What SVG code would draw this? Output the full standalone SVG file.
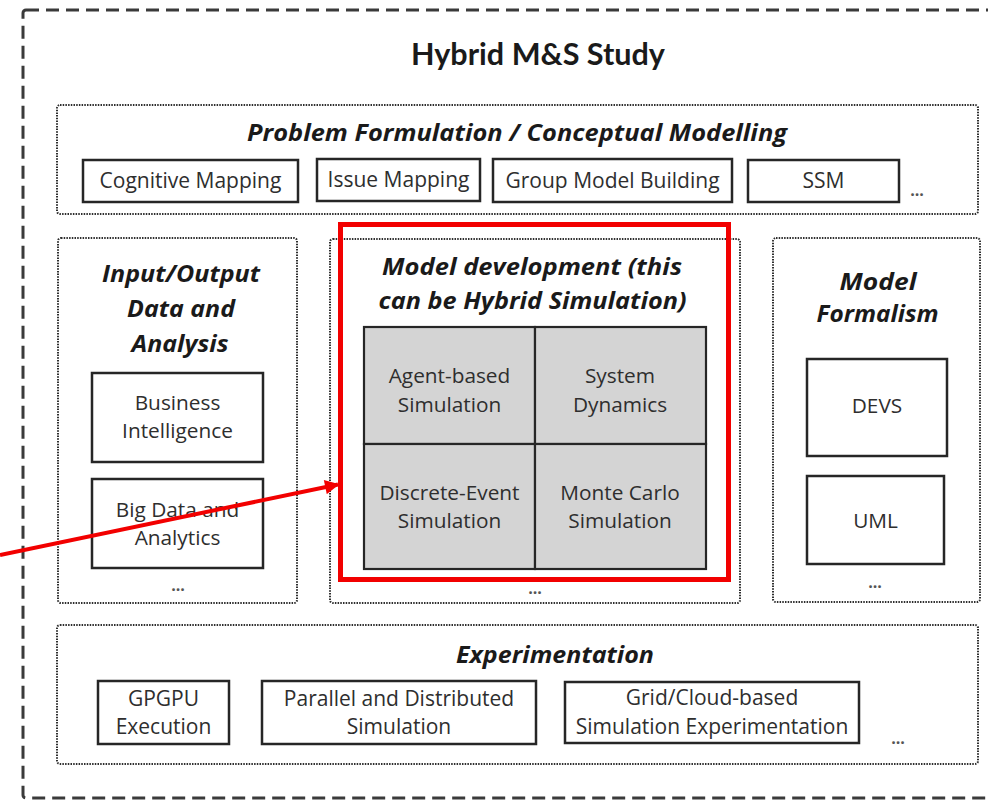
<svg xmlns="http://www.w3.org/2000/svg" width="988" height="802" viewBox="0 0 988 802">
  <defs>
    <style>
      .outer { fill: none; stroke: #3a3a3a; stroke-width: 3; stroke-dasharray: 13 7; }
      .group { fill: none; stroke: #2e2e2e; stroke-width: 2; stroke-dasharray: 1.5 1.2; }
      .box { fill: #ffffff; stroke: #262626; stroke-width: 2.5; }
      .cell { fill: #d4d4d4; stroke: #262626; stroke-width: 2.2; }
      .hl { fill: none; stroke: #f20000; stroke-width: 5; }
      .title { font-family: Lato, "Liberation Sans", sans-serif; font-weight: bold; font-size: 30px; fill: #1a1a1a; text-anchor: middle; }
      .head { font-family: "Open Sans", "Liberation Sans", sans-serif; font-weight: bold; font-style: italic; font-size: 22.5px; fill: #1a1a1a; text-anchor: middle; }
      .txt { font-family: "Open Sans", "Liberation Sans", sans-serif; font-size: 20.8px; fill: #2e2e2e; text-anchor: middle; }
      .sm { font-size: 21px; }
      .dots { font-family: "Open Sans", "Liberation Sans", sans-serif; font-size: 16px; font-weight: bold; fill: #555555; text-anchor: middle; }
    </style>
    <marker id="arrowRed" viewBox="0 0 10 10" refX="9" refY="5" markerWidth="4" markerHeight="3.6" orient="auto" markerUnits="strokeWidth">
      <path d="M0,0 L10,5 L0,10 z" fill="#f20000"/>
    </marker>
  </defs>

  <rect width="988" height="802" fill="#ffffff"/>

  <!-- study frame -->
  <g id="study">
    <rect class="outer" x="23" y="10" width="1000" height="788" rx="3"/>
    <text class="title" x="538" y="65" textLength="254" lengthAdjust="spacingAndGlyphs">Hybrid M&amp;S Study</text>
  </g>

  <!-- problem formulation / conceptual modelling -->
  <g id="problem-formulation">
    <rect class="group" x="57" y="105" width="921" height="109" rx="3"/>
    <text class="head" x="517" y="141" textLength="540" lengthAdjust="spacingAndGlyphs">Problem Formulation / Conceptual Modelling</text>
  </g>
  <g id="cognitive-mapping">
    <rect class="box" x="83" y="160" width="215" height="42"/>
    <text class="txt sm" x="190.5" y="188">Cognitive Mapping</text>
  </g>
  <g id="issue-mapping">
    <rect class="box" x="317" y="159" width="163" height="42"/>
    <text class="txt sm" x="398.5" y="187">Issue Mapping</text>
  </g>
  <g id="group-model-building">
    <rect class="box" x="493" y="159" width="239" height="43"/>
    <text class="txt sm" x="612.5" y="188">Group Model Building</text>
  </g>
  <g id="ssm">
    <rect class="box" x="748" y="160" width="151" height="42"/>
    <text class="txt sm" x="823.5" y="188">SSM</text>
  </g>
  <text class="dots" x="917" y="196">...</text>

  <!-- input / output data and analysis -->
  <g id="io-data">
    <rect class="group" x="58" y="238" width="239" height="365" rx="3"/>
    <text class="head" x="181" y="282" font-size="24" textLength="158" lengthAdjust="spacingAndGlyphs">Input/Output</text>
    <text class="head" x="181" y="317" font-size="24" textLength="108" lengthAdjust="spacingAndGlyphs">Data and</text>
    <text class="head" x="180" y="352" font-size="24" textLength="97" lengthAdjust="spacingAndGlyphs">Analysis</text>
    <text class="dots" x="178" y="591">...</text>
  </g>
  <g id="business-intelligence">
    <rect class="box" x="92" y="373" width="171" height="89"/>
    <text class="txt" x="177.5" y="410">Business</text>
    <text class="txt" x="177.5" y="438">Intelligence</text>
  </g>
  <g id="big-data">
    <rect class="box" x="92" y="479" width="171" height="89"/>
    <text class="txt" x="177.5" y="517">Big Data and</text>
    <text class="txt" x="177.5" y="545">Analytics</text>
  </g>

  <!-- model development -->
  <g id="model-development">
    <rect class="group" x="330" y="239" width="410" height="364" rx="3"/>
    <text class="dots" x="535" y="594">...</text>
    <rect class="hl" x="340.5" y="224.5" width="388" height="355"/>
    <text class="head" x="532" y="275" textLength="300" lengthAdjust="spacingAndGlyphs">Model development (this</text>
    <text class="head" x="532.5" y="309" textLength="308" lengthAdjust="spacingAndGlyphs">can be Hybrid Simulation)</text>
  </g>
  <g id="agent-based">
    <rect class="cell" x="364" y="327" width="171" height="117"/>
    <text class="txt" x="449.5" y="383">Agent-based</text>
    <text class="txt" x="449.5" y="412">Simulation</text>
  </g>
  <g id="system-dynamics">
    <rect class="cell" x="535" y="327" width="171" height="117"/>
    <text class="txt" x="620" y="383">System</text>
    <text class="txt" x="620" y="412">Dynamics</text>
  </g>
  <g id="discrete-event">
    <rect class="cell" x="364" y="444" width="171" height="125"/>
    <text class="txt" x="449.5" y="500">Discrete-Event</text>
    <text class="txt" x="449.5" y="528">Simulation</text>
  </g>
  <g id="monte-carlo">
    <rect class="cell" x="535" y="444" width="171" height="125"/>
    <text class="txt" x="620" y="500">Monte Carlo</text>
    <text class="txt" x="620" y="528">Simulation</text>
  </g>

  <!-- model formalism -->
  <g id="model-formalism">
    <rect class="group" x="773" y="238" width="207" height="364" rx="3"/>
    <text class="head" x="878" y="290" font-size="23.5" textLength="77" lengthAdjust="spacingAndGlyphs">Model</text>
    <text class="head" x="877.5" y="322" font-size="23.5" textLength="122" lengthAdjust="spacingAndGlyphs">Formalism</text>
    <text class="dots" x="875" y="588">...</text>
  </g>
  <g id="devs">
    <rect class="box" x="807" y="359" width="140" height="97"/>
    <text class="txt" x="877" y="413">DEVS</text>
  </g>
  <g id="uml">
    <rect class="box" x="807" y="476" width="137" height="88"/>
    <text class="txt" x="875.5" y="528">UML</text>
  </g>

  <!-- experimentation -->
  <g id="experimentation">
    <rect class="group" x="57" y="625" width="921" height="139" rx="3"/>
    <text class="head" x="555" y="663" textLength="198" lengthAdjust="spacingAndGlyphs">Experimentation</text>
  </g>
  <g id="gpgpu">
    <rect class="box" x="98" y="681" width="131" height="63"/>
    <text class="txt sm" x="163.5" y="706">GPGPU</text>
    <text class="txt sm" x="163.5" y="734">Execution</text>
  </g>
  <g id="parallel-distributed">
    <rect class="box" x="262" y="681" width="274" height="63"/>
    <text class="txt sm" x="399" y="706">Parallel and Distributed</text>
    <text class="txt sm" x="399" y="734">Simulation</text>
  </g>
  <g id="grid-cloud">
    <rect class="box" x="565" y="682" width="294" height="61"/>
    <text class="txt sm" x="712" y="705">Grid/Cloud-based</text>
    <text class="txt sm" x="712" y="734">Simulation Experimentation</text>
  </g>
  <text class="dots" x="898" y="744">...</text>

  <!-- connectors -->
  <g id="connectors">
    <line x1="0" y1="555" x2="338" y2="484.5" stroke="#f20000" stroke-width="4" marker-end="url(#arrowRed)"/>
  </g>
</svg>
